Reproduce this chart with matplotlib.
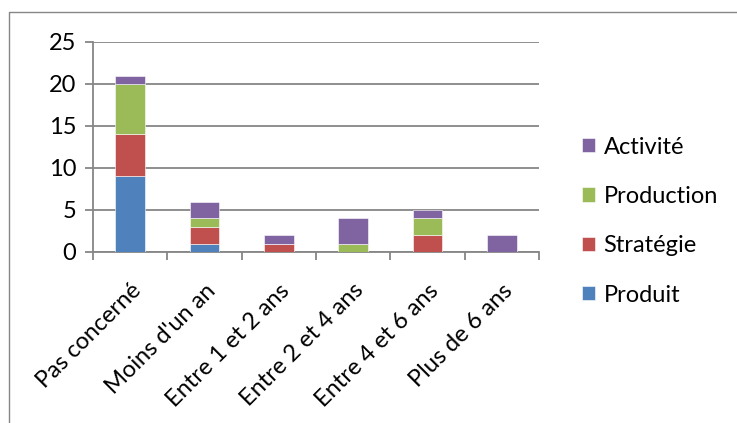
import matplotlib.pyplot as plt
import numpy as np
from matplotlib.lines import Line2D

categories = ["Pas concerné", "Moins d'un an", "Entre 1 et 2 ans",
              "Entre 2 et 4 ans", "Entre 4 et 6 ans", "Plus de 6 ans"]
produit = [9, 1, 0, 0, 0, 0]
strategie = [5, 2, 1, 0, 2, 0]
production = [6, 1, 0, 1, 2, 0]
activite = [1, 2, 1, 3, 1, 2]

series = [("Produit", produit, "#4F81BD"),
          ("Stratégie", strategie, "#C0504D"),
          ("Production", production, "#9BBB59"),
          ("Activité", activite, "#8064A2")]

plt.rcParams['font.family'] = ['Lato', 'DejaVu Sans']
FS = 17

fig = plt.figure(figsize=(7.37, 4.23), dpi=100)
ax = fig.add_axes([93 / 737, 1 - 252 / 423, (539 - 93) / 737, (252 - 42) / 423])

x = np.arange(len(categories))
bottom = np.zeros(len(categories))
handles = []
for name, vals, color in series:
    b = ax.bar(x, vals, width=0.4, bottom=bottom, color=color,
               edgecolor='white', linewidth=0.4, label=name, zorder=3)
    handles.append(b)
    bottom += np.array(vals)

ax.set_xlim(-0.5, len(categories) - 0.5)
ax.set_ylim(0, 25)
ax.set_yticks(range(0, 26, 5))
ax.yaxis.grid(True, color='#868686', linewidth=1.3, zorder=0)
ax.set_axisbelow(True)

for side in ['top', 'right']:
    ax.spines[side].set_visible(False)
for side in ['left', 'bottom']:
    ax.spines[side].set_color('#868686')
    ax.spines[side].set_linewidth(1.3)

ax.set_xticks(x)
ax.set_xticklabels(categories, rotation=45, ha='right', rotation_mode='anchor',
                   fontsize=FS)
ax.tick_params(axis='x', length=0, pad=20)
ax.set_xticks(np.arange(-0.5, len(categories)), minor=True)
ax.tick_params(axis='x', which='minor', length=6, width=1.3, color='#868686')
ax.tick_params(axis='y', length=6, width=1.3, color='#868686', labelsize=FS, pad=6)

fig.legend(handles[::-1], [s[0] for s in series][::-1],
           loc='center left', bbox_to_anchor=(561 / 737, 1 - 221 / 423),
           frameon=False, fontsize=FS, handlelength=0.55, handleheight=0.55,
           handletextpad=0.35, labelspacing=1.2)

# chart area frame (left and top edges)
fig.add_artist(Line2D([8.5 / 737, 8.5 / 737, 1], [0, 1 - 12.5 / 423, 1 - 12.5 / 423],
                      transform=fig.transFigure, color='#868686', linewidth=1))

fig.savefig('out.png', dpi=100)
